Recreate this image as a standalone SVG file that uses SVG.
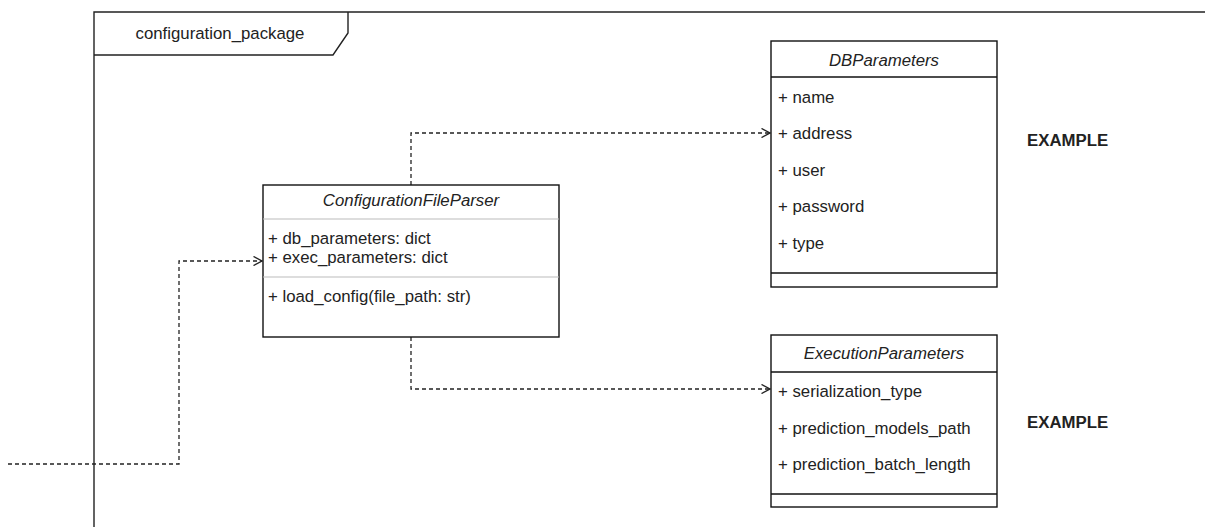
<svg xmlns="http://www.w3.org/2000/svg" width="1205" height="527" viewBox="0 0 1205 527">
  <style>
    text { font-family: "Liberation Sans", Arial, sans-serif; font-size: 16.8px; fill: #222; }
    .title { font-style: italic; text-anchor: middle; }
    .bold { font-weight: bold; }
    .box { fill: #fff; stroke: #111; stroke-width: 1.4; }
    .sep { stroke: #111; stroke-width: 1.4; }
    .sepl { stroke: #bbb; stroke-width: 1.2; }
    .frame { fill: none; stroke: #222; stroke-width: 1.4; }
    .dep { fill: none; stroke: #222; stroke-width: 1.3; stroke-dasharray: 4 3; }
  </style>
  <defs>
    <marker id="open" viewBox="0 0 10 10" refX="9.5" refY="5" markerWidth="10" markerHeight="10" markerUnits="userSpaceOnUse" orient="auto">
      <path d="M1,0.5 L9.5,5 L1,9.5" fill="none" stroke="#222" stroke-width="1.4"/>
    </marker>
  </defs>
  <rect width="1205" height="527" fill="#fff"/>

  <!-- package frame -->
  <g id="configuration_package">
    <path class="frame" d="M94,527 L94,12 L1205,12"/>
    <path class="frame" d="M94,55 L333,55 L348,33 L348,12"/>
    <text x="220" y="39" text-anchor="middle">configuration_package</text>
  </g>

  <!-- dependency connectors -->
  <g id="connectors">
    <path class="dep" d="M8,464 L179,464 L179,261 L262,261" marker-end="url(#open)"/>
    <path class="dep" d="M411,185 L411,133 L770,133" marker-end="url(#open)"/>
    <path class="dep" d="M411,337 L411,389 L770,389" marker-end="url(#open)"/>
  </g>

  <g id="ConfigurationFileParser">
    <rect class="box" x="263" y="185" width="296" height="152"/>
    <line class="sepl" x1="263" y1="219" x2="559" y2="219"/>
    <line class="sepl" x1="263" y1="277" x2="559" y2="277"/>
    <text class="title" x="411" y="206">ConfigurationFileParser</text>
    <text x="268" y="244">+ db_parameters: dict</text>
    <text x="268" y="263">+ exec_parameters: dict</text>
    <text x="268" y="302">+ load_config(file_path: str)</text>
  </g>

  <g id="DBParameters">
    <rect class="box" x="771" y="41" width="226" height="246"/>
    <line class="sep" x1="771" y1="77" x2="997" y2="77"/>
    <line class="sep" x1="771" y1="273" x2="997" y2="273"/>
    <text class="title" x="884" y="66">DBParameters</text>
    <text x="778" y="103">+ name</text>
    <text x="778" y="139">+ address</text>
    <text x="778" y="176">+ user</text>
    <text x="778" y="212">+ password</text>
    <text x="778" y="249">+ type</text>
  </g>

  <g id="ExecutionParameters">
    <rect class="box" x="771" y="335" width="226" height="172"/>
    <line class="sep" x1="771" y1="372" x2="997" y2="372"/>
    <line class="sep" x1="771" y1="494" x2="997" y2="494"/>
    <text class="title" x="884" y="359">ExecutionParameters</text>
    <text x="778" y="397">+ serialization_type</text>
    <text x="778" y="434">+ prediction_models_path</text>
    <text x="778" y="470">+ prediction_batch_length</text>
  </g>

  <g id="example_db">
    <text class="bold" x="1027" y="146">EXAMPLE</text>
  </g>
  <g id="example_exec">
    <text class="bold" x="1027" y="428">EXAMPLE</text>
  </g>
</svg>
